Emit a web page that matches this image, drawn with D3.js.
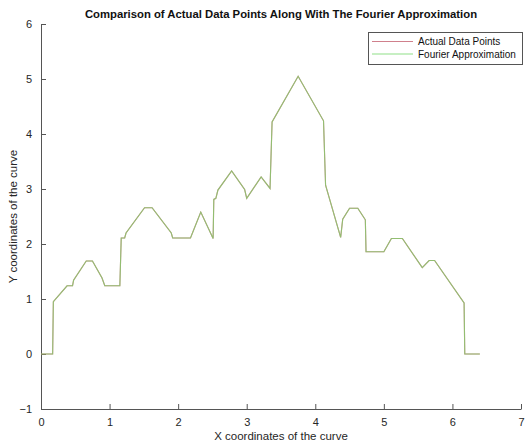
<!DOCTYPE html>
<html><head><meta charset="utf-8">
<script src="https://cdn.jsdelivr.net/npm/d3@7/dist/d3.min.js"></script>
<style>body{margin:0;background:#fff}svg{display:block;font-family:"Liberation Sans",Arial,sans-serif}</style>
</head><body><svg id="c" width="532" height="445"></svg>
<script>
const xVals = [0,0.17,0.18,0.38,0.46,0.475,0.66,0.75,0.89,0.93,1.15,1.17,1.22,1.24,1.51,1.62,1.90,1.92,2.18,2.33,2.51,2.52,2.55,2.58,2.78,2.97,3.0,3.21,3.34,3.37,3.75,4.12,4.15,4.37,4.40,4.50,4.62,4.73,4.74,5.0,5.11,5.27,5.56,5.66,5.74,6.17,6.18,6.40];
const actualY = [0,0,0.95,1.24,1.24,1.34,1.69,1.69,1.38,1.24,1.24,2.11,2.11,2.2,2.66,2.66,2.2,2.11,2.11,2.58,2.10,2.81,2.83,2.98,3.33,2.99,2.83,3.22,3.01,4.22,5.05,4.24,3.07,2.12,2.45,2.65,2.65,2.44,1.86,1.86,2.10,2.10,1.57,1.70,1.70,0.93,0,0];
const fourierY = [0,0,0.95,1.24,1.24,1.34,1.69,1.69,1.38,1.24,1.24,2.11,2.11,2.2,2.66,2.66,2.2,2.11,2.11,2.58,2.10,2.81,2.83,2.98,3.33,2.99,2.83,3.22,3.01,4.22,5.05,4.24,3.07,2.12,2.45,2.65,2.65,2.44,1.86,1.86,2.10,2.10,1.57,1.70,1.70,0.93,0,0];
const xTicks = [0,1,2,3,4,5,6,7];
const yTicks = [-1,0,1,2,3,4,5,6];
const seriesNames = ["Actual Data Points","Fourier Approximation"];
const colors = ["#c86070","#78dc68"];

const svg = d3.select("#c");
const L=41, R=521, T=24, B=409;
const x = d3.scaleLinear().domain([0,7]).range([L,R]);
const y = d3.scaleLinear().domain([-1,6]).range([B,T]);
const axisCol = "#555";
const fmt = d3.format("d");

const gx = svg.append("g").attr("transform",`translate(0,${B})`)
  .call(d3.axisBottom(x).tickValues(xTicks).tickFormat(fmt).tickSizeInner(-5).tickSizeOuter(0).tickPadding(9));
const gy = svg.append("g").attr("transform",`translate(${L},0)`)
  .call(d3.axisLeft(y).tickValues(yTicks).tickFormat(fmt).tickSizeInner(-5).tickSizeOuter(0).tickPadding(9));
[gx,gy].forEach(g=>{
  g.select(".domain").attr("stroke",axisCol).attr("stroke-width",1);
  g.selectAll(".tick line").attr("stroke",axisCol);
  g.selectAll(".tick text").attr("fill","#262626").style("font-size","11px").style("font-family","Liberation Sans, Arial, sans-serif");
});

const line = d3.line().x((d,i)=>x(xVals[i])).y(d=>y(d));
svg.append("path").datum(actualY).attr("d",line).attr("fill","none").attr("stroke",colors[0]).attr("stroke-width",1.1).attr("stroke-opacity",0.85);
svg.append("path").datum(fourierY).attr("d",line).attr("fill","none").attr("stroke",colors[1]).attr("stroke-width",1.1).attr("stroke-opacity",0.7);

svg.append("text").attr("x",(L+R)/2).attr("y",18).attr("text-anchor","middle")
  .style("font-size","11.3px").style("font-weight","bold").attr("fill","#111")
  .text("Comparison of Actual Data Points Along With The Fourier Approximation");
svg.append("text").attr("x",(L+R)/2).attr("y",440).attr("text-anchor","middle")
  .style("font-size","11.5px").attr("fill","#262626").text("X coordinates of the curve");
svg.append("text").attr("transform",`translate(17,${(T+B)/2}) rotate(-90)`).attr("text-anchor","middle")
  .style("font-size","11.5px").attr("fill","#262626").text("Y coordinates of the curve");

const lg = svg.append("g");
lg.append("rect").attr("x",368.5).attr("y",32.5).attr("width",154).attr("height",32)
  .attr("fill","#fff").attr("stroke","#555").attr("stroke-width",1);
seriesNames.forEach((n,i)=>{
  const yy = 41.5 + i*12.5;
  lg.append("line").attr("x1",372).attr("x2",413).attr("y1",yy).attr("y2",yy)
    .attr("stroke",i===0?"#d0808c":"#90e088").attr("stroke-width",1.1);
  lg.append("text").attr("x",418).attr("y",yy+3.5).style("font-size","10px").attr("fill","#111").text(n);
});
</script></body></html>
